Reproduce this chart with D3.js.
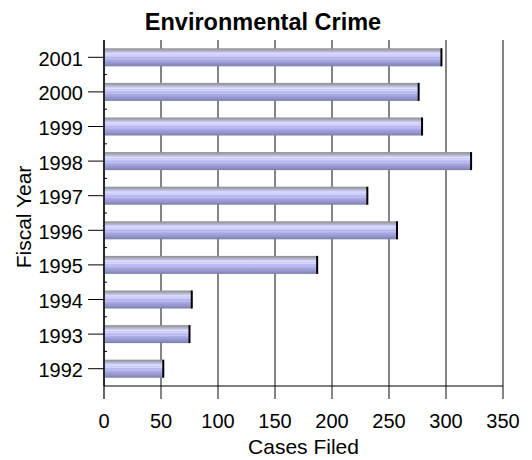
<!DOCTYPE html>
<html>
<head>
<meta charset="utf-8">
<script src="https://cdn.jsdelivr.net/npm/d3@7"></script>
<style>
  body { margin: 0; background: #fff; }
  text { font-family: Arial, "Liberation Sans", sans-serif; fill: #000; }
</style>
</head>
<body>
<div id="chart"></div>
<script>
// chart data
const years = ["2001", "2000", "1999", "1998", "1997", "1996", "1995", "1994", "1993", "1992"];
const cases = [296, 276, 279, 322, 231, 257, 187, 77, 75, 52];
const xTicks = [0, 50, 100, 150, 200, 250, 300, 350];

const width = 532;
const height = 460;
const margin = {top: 40, right: 29, bottom: 74, left: 104};
const innerW = width - margin.left - margin.right;
const innerH = height - margin.top - margin.bottom;

const svg = d3.select("#chart")
  .append("svg")
  .attr("width", width)
  .attr("height", height);

// gradient for the bars, striped look
const defs = svg.append("defs");
const grad = defs.append("linearGradient")
  .attr("id", "barGrad")
  .attr("x1", 0).attr("y1", 0).attr("x2", 0).attr("y2", 1);
const stops = [
  [0.00, "#8e8e8e"], [0.10, "#a4a4a8"], [0.16, "#b4b4d8"], [0.24, "#c8c8f4"],
  [0.30, "#e6e6ff"], [0.36, "#c4c4f6"], [0.42, "#dadaff"], [0.50, "#b2b2ee"],
  [0.58, "#c0c0f2"], [0.66, "#a8a8e4"], [0.76, "#9e9ed8"], [0.88, "#9090c4"],
  [1.00, "#7c7ca8"]
];
stops.forEach(function(s) {
  grad.append("stop").attr("offset", s[0]).attr("stop-color", s[1]);
});

const g = svg.append("g")
  .attr("transform", "translate(" + margin.left + "," + margin.top + ")");

const x = d3.scaleLinear()
  .domain([0, 350])
  .range([0, innerW]);

const y = d3.scaleBand()
  .domain(years)
  .range([0, innerH])
  .paddingInner(0.48)
  .paddingOuter(0.24);

// vertical grid lines, extending below the axis as ticks
g.selectAll(".grid")
  .data(xTicks)
  .enter()
  .append("line")
  .attr("class", "grid")
  .attr("x1", function(d) { return x(d); })
  .attr("x2", function(d) { return x(d); })
  .attr("y1", 0)
  .attr("y2", innerH + 13)
  .attr("stroke", function(d) { return d === 0 ? "#000" : "#333"; })
  .attr("stroke-width", 1.2);

// bars
const bars = g.selectAll(".bar")
  .data(cases)
  .enter()
  .append("g")
  .attr("class", "bar");

bars.append("rect")
  .attr("x", x(0) + 1)
  .attr("y", function(d, i) { return y(years[i]); })
  .attr("width", function(d) { return x(d) - x(0) - 1; })
  .attr("height", y.bandwidth())
  .attr("fill", "url(#barGrad)");

bars.append("line")
  .attr("x1", function(d) { return x(d); })
  .attr("x2", function(d) { return x(d); })
  .attr("y1", function(d, i) { return y(years[i]); })
  .attr("y2", function(d, i) { return y(years[i]) + y.bandwidth(); })
  .attr("stroke", "#000")
  .attr("stroke-width", 2);

// x axis
g.append("line")
  .attr("x1", 0).attr("x2", innerW)
  .attr("y1", innerH).attr("y2", innerH)
  .attr("stroke", "#000")
  .attr("stroke-width", 1.2);

g.selectAll(".xlabel")
  .data(xTicks)
  .enter()
  .append("text")
  .attr("class", "xlabel")
  .attr("x", function(d) { return x(d); })
  .attr("y", innerH + 42)
  .attr("text-anchor", "middle")
  .style("font-size", "20px")
  .text(function(d) { return d; });

// y axis
g.append("line")
  .attr("x1", 0).attr("x2", 0)
  .attr("y1", 0).attr("y2", innerH)
  .attr("stroke", "#000")
  .attr("stroke-width", 1.2);

// major ticks at band centres
g.selectAll(".ytick")
  .data(years)
  .enter()
  .append("line")
  .attr("class", "ytick")
  .attr("x1", -16).attr("x2", 0)
  .attr("y1", function(d) { return y(d) + y.bandwidth() / 2; })
  .attr("y2", function(d) { return y(d) + y.bandwidth() / 2; })
  .attr("stroke", "#000");

// minor ticks between categories
g.selectAll(".yminor")
  .data(years.slice(1))
  .enter()
  .append("line")
  .attr("class", "yminor")
  .attr("x1", 0).attr("x2", 3)
  .attr("y1", function(d) { return y(d) - y.step() * y.paddingInner() / 2; })
  .attr("y2", function(d) { return y(d) - y.step() * y.paddingInner() / 2; })
  .attr("stroke", "#000");

g.selectAll(".ylabel")
  .data(years)
  .enter()
  .append("text")
  .attr("class", "ylabel")
  .attr("x", -21)
  .attr("y", function(d) { return y(d) + y.bandwidth() / 2; })
  .attr("dy", "0.42em")
  .attr("text-anchor", "end")
  .style("font-size", "20px")
  .text(function(d) { return d; });

// title
svg.append("text")
  .attr("x", 263)
  .attr("y", 30)
  .attr("text-anchor", "middle")
  .style("font-size", "23.5px")
  .style("font-weight", "bold")
  .text("Environmental Crime");

// axis titles
svg.append("text")
  .attr("x", margin.left + innerW / 2)
  .attr("y", 454)
  .attr("text-anchor", "middle")
  .style("font-size", "21px")
  .text("Cases Filed");

svg.append("text")
  .attr("transform", "translate(31," + (margin.top + innerH / 2 + 4) + ") rotate(-90)")
  .attr("text-anchor", "middle")
  .style("font-size", "21px")
  .text("Fiscal Year");
</script>
</body>
</html>
